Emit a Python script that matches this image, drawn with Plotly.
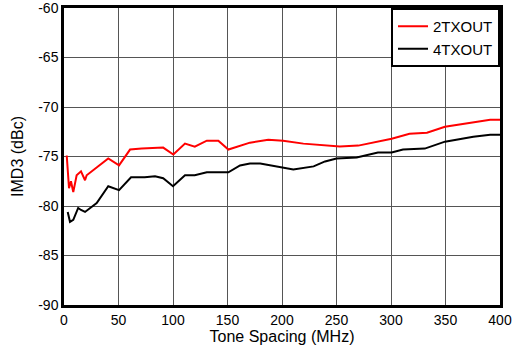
import plotly.graph_objects as go

freq_2tx = [2.5, 4.6, 6.4, 8.5, 11.6, 15.6, 19.3, 20.8, 40.6, 50.5, 60.6, 71.3, 91, 100.3, 111, 120, 131, 141.6,
            150.8, 170.6, 187.4, 201, 219.6, 238, 253, 270, 300.6, 317, 333, 349.5, 366, 391, 400]
imd_2tx = [-74.9, -78.2, -77.5, -78.6, -76.9, -76.5, -77.4, -76.9, -75.2, -75.9, -74.3, -74.2, -74.1, -74.8,
           -73.7, -74.0, -73.4, -73.4, -74.3, -73.6, -73.3, -73.4, -73.7, -73.9, -74.0, -73.9, -73.2, -72.7,
           -72.6, -72.0, -71.7, -71.3, -71.3]

freq_4tx = [3.4, 5.5, 8.5, 13, 15.6, 19.3, 30, 40.6, 50.5, 61.5, 74, 83.5, 91, 100, 111, 120, 131, 150.8,
            161.5, 170.6, 180, 199.7, 210.4, 229, 239.5, 250, 268.5, 288, 300.6, 311, 331, 349.5, 360, 375.5,
            391, 400]
imd_4tx = [-80.6, -81.6, -81.4, -80.2, -80.4, -80.6, -79.7, -78.0, -78.4, -77.1, -77.1, -77.0, -77.2, -78.0,
           -76.9, -76.9, -76.6, -76.6, -75.9, -75.7, -75.7, -76.1, -76.3, -76.0, -75.5, -75.2, -75.1, -74.6,
           -74.6, -74.3, -74.2, -73.5, -73.3, -73.0, -72.8, -72.8]

x_ticks = [0, 50, 100, 150, 200, 250, 300, 350, 400]
y_ticks = [-90, -85, -80, -75, -70, -65, -60]
y_tick_labels = ["-90", "-85", "-80", "-75", "-70", "-65", "-60"]

FAMILY = "Liberation Sans, Arial, sans-serif"
tick_font = dict(family=FAMILY, size=14, color="#000000")
title_font = dict(family=FAMILY, size=16, color="#000000")
legend_font = dict(family=FAMILY, size=15, color="#000000")

fig = go.Figure()
fig.add_trace(go.Scatter(x=freq_2tx, y=imd_2tx, mode="lines", name="2TXOUT",
                         line=dict(color="#FF0000", width=2)))
fig.add_trace(go.Scatter(x=freq_4tx, y=imd_4tx, mode="lines", name="4TXOUT",
                         line=dict(color="#000000", width=2)))

fig.update_layout(
    width=513, height=353,
    margin=dict(l=64, r=13, t=8, b=48, autoexpand=False),
    paper_bgcolor="white", plot_bgcolor="white",
    font=tick_font,
    showlegend=True,
    legend=dict(x=1, y=1, xanchor="right", yanchor="top",
                bgcolor="white", bordercolor="#000000", borderwidth=2,
                font=legend_font, tracegroupgap=0),
    xaxis=dict(range=[0, 400], tickvals=x_ticks, ticks="", showgrid=True, automargin=False,
               ticklabeloverflow="allow",
               gridcolor="#555555", gridwidth=1, showline=True, linecolor="#000000",
               linewidth=2.5, mirror=True, zeroline=False,
               title=dict(text="Tone Spacing (MHz)", font=title_font, standoff=3),
               tickfont=tick_font),
    yaxis=dict(range=[-90, -60], tickvals=y_ticks, ticktext=y_tick_labels, ticks="", showgrid=True,
               automargin=False, ticklabeloverflow="allow",
               gridcolor="#555555", gridwidth=1, showline=True, linecolor="#000000",
               linewidth=2.5, mirror=True, zeroline=False,
               title=dict(text="IMD3 (dBc)", font=title_font, standoff=11),
               tickfont=tick_font),
)

fig.write_html("out.html", config={"displayModeBar": False},
               post_script="document.body.style.margin='0';")
